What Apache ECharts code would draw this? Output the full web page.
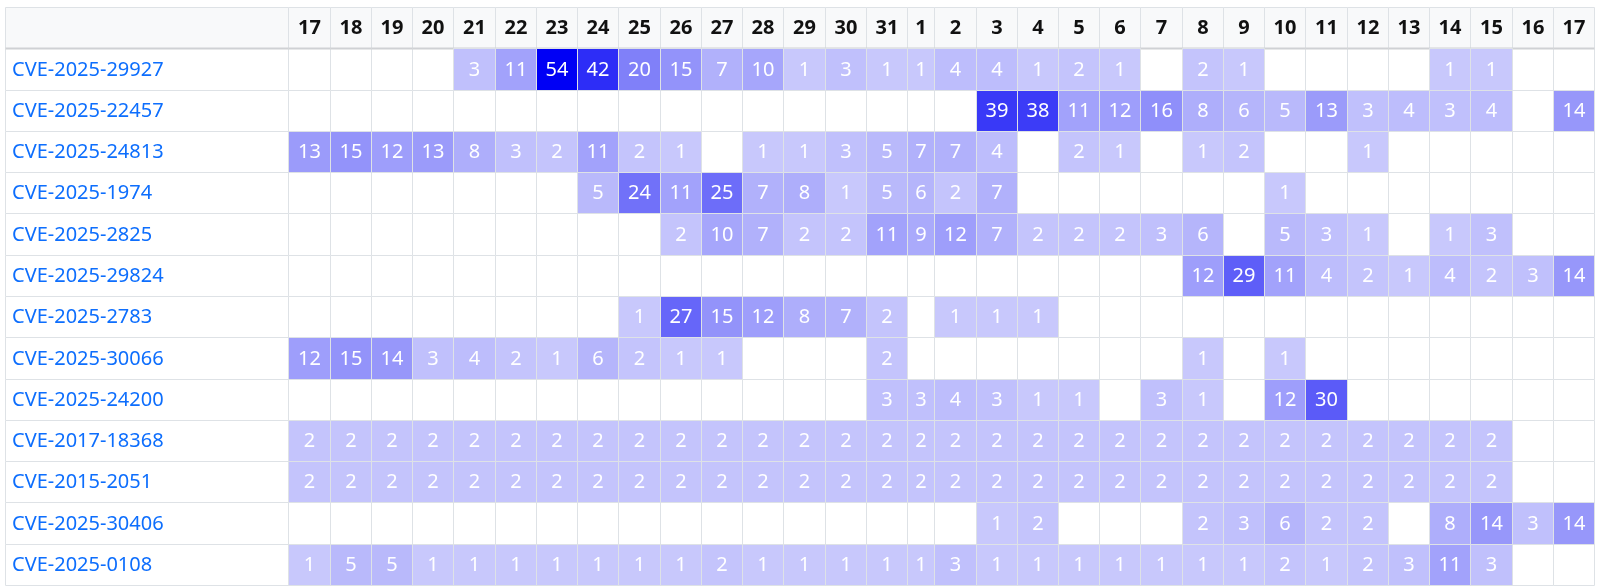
<!DOCTYPE html>
<html><head><meta charset="utf-8">
<script src="https://cdn.jsdelivr.net/npm/echarts@6/dist/echarts.min.js"></script>
<style>html,body{margin:0;padding:0;background:#fff}#c{width:1601px;height:587px}</style>
</head><body><div id="c"></div>
<script>
const _ = null;
const days = ['17','18','19','20','21','22','23','24','25','26','27','28','29','30','31','1','2','3','4','5','6','7','8','9','10','11','12','13','14','15','16','17'];
const cves = ['CVE-2025-29927','CVE-2025-22457','CVE-2025-24813','CVE-2025-1974','CVE-2025-2825','CVE-2025-29824','CVE-2025-2783','CVE-2025-30066','CVE-2025-24200','CVE-2017-18368','CVE-2015-2051','CVE-2025-30406','CVE-2025-0108'];
const v29927 = [_,_,_,_,3,11,54,42,20,15,7,10,1,3,1,1,4,4,1,2,1,_,2,1,_,_,_,_,1,1,_,_];
const v22457 = [_,_,_,_,_,_,_,_,_,_,_,_,_,_,_,_,_,39,38,11,12,16,8,6,5,13,3,4,3,4,_,14];
const v24813 = [13,15,12,13,8,3,2,11,2,1,_,1,1,3,5,7,7,4,_,2,1,_,1,2,_,_,1,_,_,_,_,_];
const v1974  = [_,_,_,_,_,_,_,5,24,11,25,7,8,1,5,6,2,7,_,_,_,_,_,_,1,_,_,_,_,_,_,_];
const v2825  = [_,_,_,_,_,_,_,_,_,2,10,7,2,2,11,9,12,7,2,2,2,3,6,_,5,3,1,_,1,3,_,_];
const v29824 = [_,_,_,_,_,_,_,_,_,_,_,_,_,_,_,_,_,_,_,_,_,_,12,29,11,4,2,1,4,2,3,14];
const v2783  = [_,_,_,_,_,_,_,_,1,27,15,12,8,7,2,_,1,1,1,_,_,_,_,_,_,_,_,_,_,_,_,_];
const v30066 = [12,15,14,3,4,2,1,6,2,1,1,_,_,_,2,_,_,_,_,_,_,_,1,_,1,_,_,_,_,_,_,_];
const v24200 = [_,_,_,_,_,_,_,_,_,_,_,_,_,_,3,3,4,3,1,1,_,3,1,_,12,30,_,_,_,_,_,_];
const v18368 = [2,2,2,2,2,2,2,2,2,2,2,2,2,2,2,2,2,2,2,2,2,2,2,2,2,2,2,2,2,2,_,_];
const v2051  = [2,2,2,2,2,2,2,2,2,2,2,2,2,2,2,2,2,2,2,2,2,2,2,2,2,2,2,2,2,2,_,_];
const v30406 = [_,_,_,_,_,_,_,_,_,_,_,_,_,_,_,_,_,1,2,_,_,_,2,3,6,2,2,_,8,14,3,14];
const v0108  = [1,5,5,1,1,1,1,1,1,1,2,1,1,1,1,1,3,1,1,1,1,1,1,1,2,1,2,3,11,3,_,_];
const rows = [v29927,v22457,v24813,v1974,v2825,v29824,v2783,v30066,v24200,v18368,v2051,v30406,v0108];

// column widths from content, like an auto-layout table
const mctx = document.createElement('canvas').getContext('2d');
mctx.font = 'bold 20px "Noto Sans"';
const PAD = 11;
const colW = days.map((d, i) => {
  let m = mctx.measureText(d).width;
  rows.forEach(r => { if (r[i] != null) m = Math.max(m, mctx.measureText(String(r[i])).width); });
  return m + PAD;
});
const colStart = [];
let acc = 0;
colW.forEach(w => { colStart.push(acc); acc += w; });
const totalW = acc;
const LABEL_SHARE = 0.1784;
const labelW = totalW * LABEL_SHARE / (1 - LABEL_SHARE);

const yCats = [''].concat(cves);

const frameData = [];
for (let r = 0; r < yCats.length; r++) {
  for (let c = -1; c < days.length; c++) frameData.push([c, r]);
}
const heatData = [];
rows.forEach((row, ri) => row.forEach((v, c) => { if (v != null) heatData.push([c, ri + 1, v]); }));

function cellBox(api, c, r) {
  const x0 = c < 0 ? -labelW : colStart[c];
  const x1 = c < 0 ? 0 : colStart[c] + colW[c];
  const p0 = api.coord([x0, r]);
  const p1 = api.coord([x1, r]);
  const h = api.size([0, 1])[1];
  const X0 = Math.round(p0[0]) + 0.5, X1 = Math.round(p1[0]) + 0.5;
  const Y0 = Math.round(p0[1] - h / 2) + 0.5, Y1 = Math.round(p0[1] + h / 2) + 0.5;
  return { x: X0, y: Y0, width: X1 - X0, height: Y1 - Y0, cy: p0[1] };
}

const chart = echarts.init(document.getElementById('c'), null, { renderer: 'canvas' });
chart.setOption({
  animation: false,
  backgroundColor: '#fff',
  grid: { left: 5, right: 7, top: 7, bottom: 2, containLabel: false },
  xAxis: { type: 'value', min: -labelW, max: totalW, show: false },
  yAxis: { type: 'category', data: yCats, inverse: true, show: false },
  visualMap: {
    type: 'continuous', show: false, min: 1, max: 54, dimension: 2, seriesIndex: 1,
    inRange: { color: ['#c8c8fc', '#0000f5'] }
  },
  series: [
    {
      type: 'custom', data: frameData, clip: false, z: 1,
      encode: { x: -1, y: 1 },
      renderItem: function (params, api) {
        const c = api.value(0), r = api.value(1);
        const b = cellBox(api, c, r);
        const header = r === 0;
        const children = [{
          type: 'rect',
          shape: { x: b.x, y: b.y, width: b.width, height: b.height },
          style: { fill: header ? '#f8f9fa' : '#ffffff', stroke: '#dee2e6', lineWidth: 1 }
        }];
        if (header) {
          children.push({
            type: 'line',
            shape: { x1: b.x, y1: b.y + b.height, x2: b.x + b.width, y2: b.y + b.height },
            style: { stroke: '#cfd1d4', lineWidth: 2 }, z2: 5
          });
          if (c >= 0) children.push({
            type: 'text', z2: 10,
            style: { text: days[c], x: b.x + b.width / 2, y: b.cy + 1, align: 'center', verticalAlign: 'middle',
              textAlign: 'center', textVerticalAlign: 'middle', font: 'bold 20px "Noto Sans"', fill: '#111' }
          });
        } else if (c < 0) {
          children.push({
            type: 'text', z2: 10,
            style: { text: cves[r - 1], x: b.x + 6.5, y: b.cy + 1, align: 'left', verticalAlign: 'middle',
              textAlign: 'left', textVerticalAlign: 'middle', font: '20px "Noto Sans"', fill: '#0d6efd' }
          });
        }
        return { type: 'group', children: children };
      }
    },
    {
      type: 'custom', data: heatData, clip: false, z: 2,
      encode: { x: -1, y: 1 },
      renderItem: function (params, api) {
        const c = api.value(0), r = api.value(1), v = api.value(2);
        const b = cellBox(api, c, r);
        return {
          type: 'group',
          children: [{
            type: 'rect',
            shape: { x: b.x, y: b.y, width: b.width, height: b.height },
            style: { fill: api.visual('color'), stroke: '#dee2e6', lineWidth: 1 }
          }, {
            type: 'text', z2: 10,
            style: { text: String(v), x: b.x + b.width / 2, y: b.cy + 1, align: 'center', verticalAlign: 'middle',
              textAlign: 'center', textVerticalAlign: 'middle', font: '20px "Noto Sans"', fill: '#ffffff' }
          }]
        };
      }
    }
  ]
});
</script>
</body></html>
